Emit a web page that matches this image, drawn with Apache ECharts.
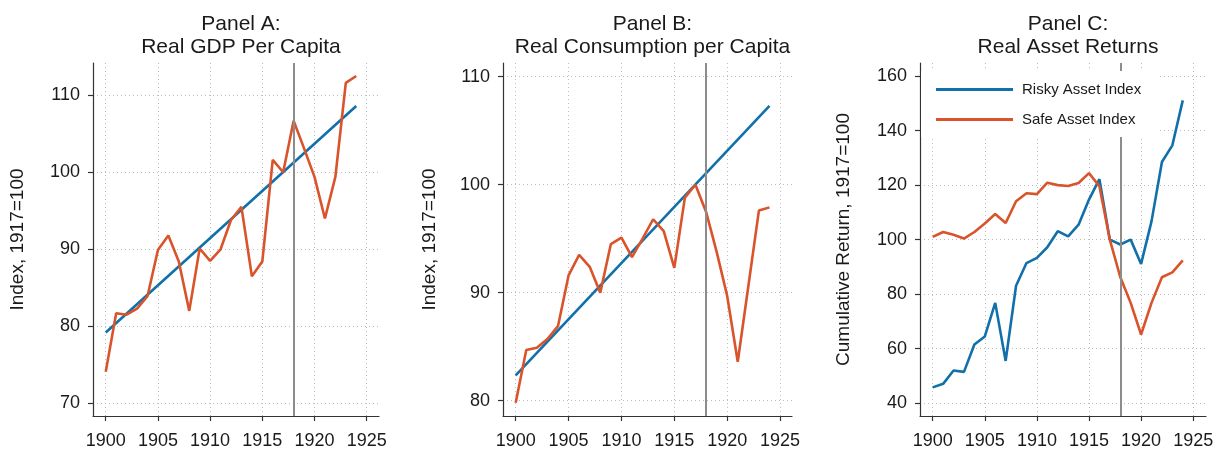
<!DOCTYPE html>
<html>
<head>
<meta charset="utf-8">
<script src="https://cdn.jsdelivr.net/npm/echarts@6/dist/echarts.min.js"></script>
<style>
html,body{margin:0;padding:0;background:#fff;}
#chart{width:1222px;height:452px;}
</style>
</head>
<body>
<div id="chart"></div>
<script>
// ---- data ----
const years = [1900,1901,1902,1903,1904,1905,1906,1907,1908,1909,1910,1911,1912,1913,1914,1915,1916,1917,1918,1919,1920,1921,1922,1923,1924];
const gdp = [74.1,81.7,81.5,82.3,83.9,89.9,91.8,88.4,82.0,90.1,88.5,90.0,93.8,95.5,86.5,88.4,101.6,100.0,106.7,103.1,99.4,94.0,99.4,111.6,112.5];
const gdpTrend = [[1900,79.2],[1924,108.6]];
const cons = [79.8,84.7,84.9,85.7,86.9,91.6,93.5,92.4,90.0,94.5,95.1,93.3,95.0,96.8,95.7,92.3,98.8,100.0,97.5,93.8,89.7,83.6,90.6,97.6,97.9];
const consTrend = [[1900,82.35],[1924,107.3]];
const risky = [45.8,47.1,52.0,51.5,61.5,64.5,76.8,55.5,83.1,91.4,93.3,97.2,103.1,101.2,105.5,114.7,122.2,100.0,98.2,100.0,91.1,106.7,128.5,134.6,151.1];
const safe = [101.0,102.8,101.8,100.4,102.8,105.9,109.4,106.1,114.1,117.0,116.7,120.9,120.0,119.7,120.8,124.4,119.6,100.0,86.3,76.8,65.2,76.8,86.2,88.0,92.4];
const xTicks = [1900,1905,1910,1915,1920,1925];
const yTicksA = [70,80,90,100,110];
const yTicksB = [80,90,100,110];
const yTicksC = [40,60,80,100,120,140,160];
const breakYear = 1918;
const titles = ['Panel A:\nReal GDP Per Capita','Panel B:\nReal Consumption per Capita','Panel C:\nReal Asset Returns'];
const yNames = ['Index, 1917=100','Index, 1917=100','Cumulative Return, 1917=100'];
const legendNames = ['Risky Asset Index','Safe Asset Index'];

// ---- style ----
const FONT = 'Liberation Sans';
const BLUE = '#1170aa';
const ORANGE = '#d9532b';
const TXT = '#1a1a1a';
const pair = (ys) => years.map((y,i)=>[y,ys[i]]);

const grids = [
  {left:93, top:63, width:286, height:353},
  {left:503, top:63, width:289, height:353},
  {left:920, top:63, width:286, height:353}
];
const xRanges = [[1898.78,1926.18],[1898.8,1926.13],[1898.78,1926.23]];
const yRanges = [[68.35,114.19],[78.58,111.27],[35.3,164.8]];
const yTicks = [yTicksA,yTicksB,yTicksC];
const nameGaps = [66,64,67];

const gridLine = {show:true, lineStyle:{type:[1,3], color:'#bdbdbd', width:1}};
const axisLine = {show:true, lineStyle:{color:'#333', width:1.2}};
const plain = (v) => String(Math.round(v));

const xAxis = grids.map((g,i)=>({
  type:'value', gridIndex:i, min:xRanges[i][0], max:xRanges[i][1],
  axisLine:axisLine,
  axisTick:{show:true, customValues:xTicks, length:5, lineStyle:{color:'#333', width:1.2}},
  axisLabel:{customValues:xTicks, formatter:plain, fontFamily:FONT, fontSize:18, color:TXT, margin:16},
  splitLine:gridLine
}));
const yAxis = grids.map((g,i)=>({
  type:'value', gridIndex:i, min:yRanges[i][0], max:yRanges[i][1],
  name:yNames[i], nameLocation:'middle', nameGap:nameGaps[i],
  nameTextStyle:{fontFamily:FONT, fontSize:19, color:TXT},
  axisLine:axisLine,
  axisTick:{show:true, customValues:yTicks[i], length:5, lineStyle:{color:'#333', width:1.2}},
  axisLabel:{customValues:yTicks[i], formatter:plain, fontFamily:FONT, fontSize:18, color:TXT, margin:13},
  splitLine:gridLine
}));

const vline = {
  silent:true, symbol:'none', label:{show:false},
  lineStyle:{color:'#8c8c8c', width:2, type:'solid'},
  data:[{xAxis:breakYear}]
};
const lineBase = {type:'line', showSymbol:false, symbol:'none', silent:true, animation:false};

const series = [
  Object.assign({}, lineBase, {name:'GDP trend', xAxisIndex:0, yAxisIndex:0, data:gdpTrend, color:BLUE, lineStyle:{width:2.6, color:BLUE}, markLine:vline}),
  Object.assign({}, lineBase, {name:'Real GDP per capita', xAxisIndex:0, yAxisIndex:0, data:pair(gdp), color:ORANGE, lineStyle:{width:2.6, color:ORANGE}}),
  Object.assign({}, lineBase, {name:'Consumption trend', xAxisIndex:1, yAxisIndex:1, data:consTrend, color:BLUE, lineStyle:{width:2.6, color:BLUE}, markLine:vline}),
  Object.assign({}, lineBase, {name:'Real consumption per capita', xAxisIndex:1, yAxisIndex:1, data:pair(cons), color:ORANGE, lineStyle:{width:2.6, color:ORANGE}}),
  Object.assign({}, lineBase, {name:legendNames[0], xAxisIndex:2, yAxisIndex:2, data:pair(risky), color:BLUE, lineStyle:{width:2.6, color:BLUE}, markLine:vline}),
  Object.assign({}, lineBase, {name:legendNames[1], xAxisIndex:2, yAxisIndex:2, data:pair(safe), color:ORANGE, lineStyle:{width:2.6, color:ORANGE}})
];

const title = grids.map((g,i)=>({
  text:titles[i], left:g.left + g.width/2, top:8, textAlign:'center',
  textStyle:{fontFamily:FONT, fontSize:21, fontWeight:'normal', color:TXT, lineHeight:23}
}));

const chart = echarts.init(document.getElementById('chart'), null, {renderer:'canvas'});
chart.setOption({
  animation:false,
  backgroundColor:'#fff',
  title:title,
  grid:grids,
  xAxis:xAxis,
  yAxis:yAxis,
  legend:{
    data:legendNames, orient:'vertical', left:921, top:71,
    backgroundColor:'#fff', padding:[11,16,10,15],
    icon:'rect', itemWidth:77, itemHeight:3, itemGap:15,
    textStyle:{fontFamily:FONT, fontSize:15, color:TXT, padding:[0,0,0,4]},
    selectedMode:false, z:10
  },
  series:series
});
</script>
</body>
</html>
